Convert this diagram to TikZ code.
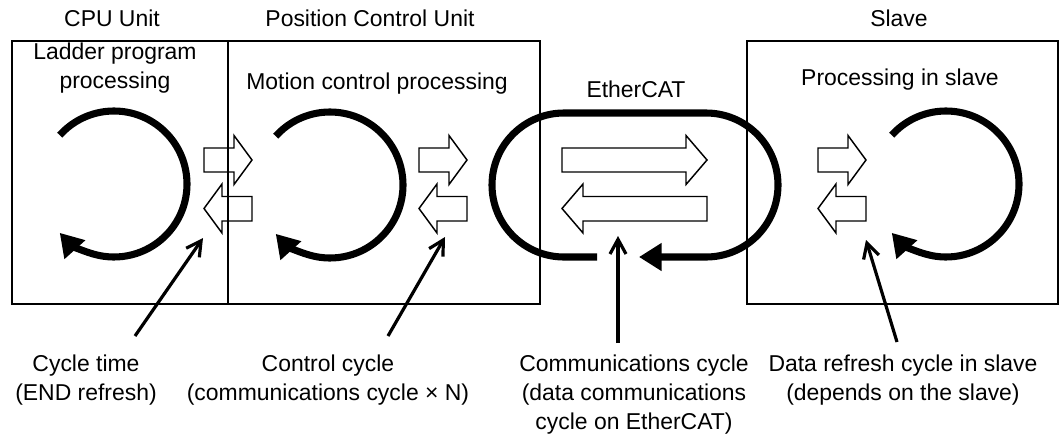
\documentclass[tikz,border=0pt]{standalone}
\usepackage{fontspec}
\setmainfont{Liberation Sans}
\usetikzlibrary{arrows.meta}
\tikzset{
  unitframe/.style  = {draw, line width=1.1pt},
  lbl/.style        = {font=\fontsize{17.2}{21.5}\selectfont, inner sep=0pt,
                       align=center, anchor=base},
  cyclearrow/.style = {line width=5.3pt, line cap=butt,
                       -{Triangle[length=17pt, width=20pt]}},
  blockarrow/.style = {draw, line width=1.1pt, line join=miter},
  pointer/.style    = {line width=2.4pt, -{Straight Barb[length=11pt, width=12pt]}},
}

\begin{document}
\begin{tikzpicture}[x=0.75pt, y=-0.75pt]
  \useasboundingbox (0,0) rectangle (1063,436);
  % unit frames
  \draw[unitframe] (12,41) rectangle (228,304);
  \draw[unitframe] (228,41) rectangle (540,304);
  \draw[unitframe] (747,41) rectangle (1058,304);
  % headings (base = last line)
  \node[lbl] (cpu)   at (112,26) {CPU Unit};
  \node[lbl] (pcu)   at (370,26) {Position Control Unit};
  \node[lbl] (slave) at (899,26) {Slave};
  \node[lbl] (ecat)  at (636,97) {EtherCAT};
  \node[lbl] (ladder) at (115,88.5) {Ladder program\\processing};
  \node[lbl] (motion) at (377,89) {Motion control processing};
  \node[lbl] (slproc) at (900,85) {Processing in slave};
  % processing loops
  \foreach \cx/\cy in {114/184, 330/185, 946/184}
    {\draw[cyclearrow] (\cx,\cy) ++(-138:73) arc[start angle=-138, end angle=138, radius=73];}
  % EtherCAT ring
  \draw[cyclearrow] (597,257) -- (564,257) arc[start angle=90, end angle=270, radius=72]
    -- (706,113) arc[start angle=270, end angle=450, radius=72] -- (639,257);
  % data exchange
  \foreach \xa/\xb/\hl in {204/252/18, 419/467/18, 818/866/18, 562/707/21} {
    \draw[blockarrow] (\xa,148) -- (\xb-\hl,148) -- (\xb-\hl,135.5) -- (\xb,160)
      -- (\xb-\hl,184.5) -- (\xb-\hl,172) -- (\xa,172) -- cycle;
    \draw[blockarrow] (\xb,196.5) -- (\xa+\hl,196.5) -- (\xa+\hl,184) -- (\xa,208.5)
      -- (\xa+\hl,233) -- (\xa+\hl,221) -- (\xb,221) -- cycle;
  }
  % cycle names
  \node[lbl] (tcyc) at (86,400.5)  {Cycle time\\(END refresh)};
  \node[lbl] (ccyc) at (328,400.5) {Control cycle\\(communications cycle × N)};
  \node[lbl] (mcyc) at (634,429) {Communications cycle\\(data communications\\cycle on EtherCAT)};
  \node[lbl] (dcyc) at (903,400.5) {Data refresh cycle in slave\\(depends on the slave)};
  \coordinate (tcyc-a) at (135,336); \coordinate (tcyc-b) at (203,238);
  \coordinate (ccyc-a) at (388,336); \coordinate (ccyc-b) at (445,237);
  \coordinate (mcyc-a) at (618,343); \coordinate (mcyc-b) at (618,236);
  \coordinate (dcyc-a) at (897,342); \coordinate (dcyc-b) at (866,240);
  \foreach \p in {tcyc, ccyc, mcyc, dcyc}
    {\draw[pointer] (\p-a) -- (\p-b);}
\end{tikzpicture}
\end{document}
